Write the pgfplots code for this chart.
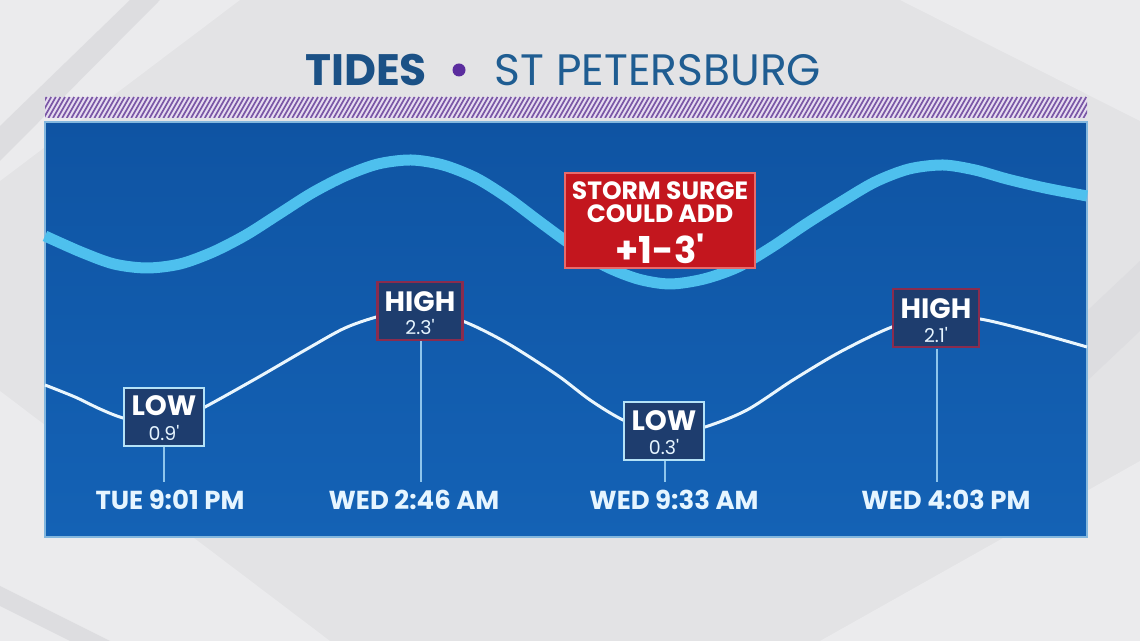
\documentclass[border=0pt]{standalone}
\usepackage{fontspec}
\setmainfont{Poppins}
\usepackage{pgfplots}
\pgfplotsset{compat=1.18}
\definecolor{bgbase}{HTML}{E3E3E5}
\definecolor{bglight}{HTML}{EBEBED}
\definecolor{bgdark}{HTML}{DDDDE0}
\definecolor{panelTop}{HTML}{0F54A3}
\definecolor{panelBot}{HTML}{1462B5}
\definecolor{surge}{HTML}{4EC0EE}
\definecolor{tide}{HTML}{EAF6FD}
\definecolor{boxfill}{HTML}{1E3D6E}
\definecolor{lowborder}{HTML}{B4E2F7}
\definecolor{highborder}{HTML}{8A2C4E}
\definecolor{tickline}{HTML}{8EC5EC}
\definecolor{labeltext}{HTML}{E6F5FF}
\definecolor{stormred}{HTML}{C3161E}
\definecolor{stormborder}{HTML}{E86A6A}
\definecolor{titleA}{HTML}{1B5186}
\definecolor{titleB}{HTML}{1F5D92}
\definecolor{dotpurple}{HTML}{5B2D9E}
\definecolor{hatchbg}{HTML}{E6DCF0}
\definecolor{hatchfg}{HTML}{7A57A6}
\newcommand\ft{\textquotesingle}
\begin{document}
\begin{tikzpicture}
% ---------- background (1 unit = 1 px of the reference, y upwards) ----------
\begin{scope}[x=0.5pt,y=0.5pt]
\fill[bgbase] (0,0) rectangle (1140,641);
\fill[bglight] (0,641) -- (240,641) -- (0,460) -- cycle;
\fill[bgdark] (0,480) -- (160,641) -- (130,641) -- (0,515) -- cycle;
\fill[bglight] (0,0) -- (330,0) -- (0,250) -- cycle;
\fill[bgdark] (0,55) -- (110,0) -- (70,0) -- (0,35) -- cycle;
\fill[bglight] (820,0) -- (1140,0) -- (1140,180) -- cycle;
\fill[bgdark] (1087,260) -- (1140,310) -- (1140,380) -- (1087,330) -- cycle;
\fill[bglight] (900,641) -- (1140,641) -- (1140,520) -- cycle;
% hatched band
\begin{scope}
\clip (45,523) rectangle (1087,544);
\fill[hatchbg] (45,523) rectangle (1087,544);
\foreach \i in {30,34.6,...,1090} {\draw[hatchfg, line width=0.85pt] (\i,523) -- (\i+12,544);}
\end{scope}
% panel
\shade[top color=panelTop, bottom color=panelBot] (45,104) rectangle (1087,519);
\draw[lowborder!70!panelTop, line width=0.6pt] (45,104) rectangle (1087,519);
% title
\node[text=titleA, font=\bfseries\fontsize{22}{24}\selectfont] at (366,571) {TIDES};
\fill[dotpurple] (459,571) circle (6.5);
\node[text=titleB, font=\fontsize{22}{24}\selectfont] at (658,571) {ST PETERSBURG};
\end{scope}
% ---------- chart ----------
\begin{axis}[width=570pt, height=320.5pt, scale only axis,
  xmin=0, xmax=1140, ymin=0, ymax=641, hide axis, clip=false]
% storm surge band
\addplot[smooth, line width=5.5pt, color=surge] coordinates {
 (45,405) (81,389) (114,377) (147,373) (180,377) (213,389) (246,406)
 (279,427) (312,448) (345,465) (378,477) (411,481) (443,476) (476,463)
 (508,443) (540,419) (573,395) (605,375) (638,362) (670,357) (704,362)
 (738,374) (772,394) (806,417) (841,439) (875,459) (909,472) (943,476)
 (975,471) (1007,462) (1045,453) (1087,445)};
% tide curve
\addplot[smooth, line width=1.5pt, color=tide] coordinates {
 (45,256) (75,244) (100,232) (123,223) (164,213) (205,234)
 (257,263) (307,292) (345,313) (380,325) (420,333) (465,319)
 (507,298) (557,266) (590,241) (623,221) (664,205) (705,214)
 (747,231) (793,261) (840,289) (892,314) (936,325) (980,322)
 (1030,310) (1087,294)};
% tick lines
\draw[tickline, line width=0.6pt] (164,194) -- (164,159);
\draw[tickline, line width=0.6pt] (421,300) -- (421,159);
\draw[tickline, line width=0.6pt] (665,180) -- (665,159);
\draw[tickline, line width=0.6pt] (937,292) -- (937,159);
% boxes
\node[draw=lowborder, line width=1.3pt, fill=boxfill, minimum width=40pt, minimum height=29pt, inner sep=0pt] at (164,224) {};
\node[draw=highborder, line width=1.3pt, fill=boxfill, minimum width=42.5pt, minimum height=29pt, inner sep=0pt] at (420,330) {};
\node[draw=lowborder, line width=1.3pt, fill=boxfill, minimum width=40pt, minimum height=29pt, inner sep=0pt] at (664,210) {};
\node[draw=highborder, line width=1.3pt, fill=boxfill, minimum width=43pt, minimum height=29pt, inner sep=0pt] at (936,323) {};
\node[text=white, font=\bfseries\fontsize{14}{14}\selectfont, inner sep=0pt] at (164,235) {LOW};
\node[text=labeltext, font=\fontsize{9.5}{10}\selectfont, inner sep=0pt] at (164,208) {0.9\ft};
\node[text=white, font=\bfseries\fontsize{14}{14}\selectfont, inner sep=0pt] at (420,339) {HIGH};
\node[text=labeltext, font=\fontsize{9.5}{10}\selectfont, inner sep=0pt] at (420,314) {2.3\ft};
\node[text=white, font=\bfseries\fontsize{14}{14}\selectfont, inner sep=0pt] at (664,220) {LOW};
\node[text=labeltext, font=\fontsize{9.5}{10}\selectfont, inner sep=0pt] at (664,194) {0.3\ft};
\node[text=white, font=\bfseries\fontsize{14}{14}\selectfont, inner sep=0pt] at (936,332) {HIGH};
\node[text=labeltext, font=\fontsize{9.5}{10}\selectfont, inner sep=0pt] at (936,306) {2.1\ft};
% time labels
\node[text=labeltext, font=\bfseries\fontsize{13}{14}\selectfont, inner sep=0pt] at (170,141) {TUE 9:01 PM};
\node[text=labeltext, font=\bfseries\fontsize{13}{14}\selectfont, inner sep=0pt] at (414,141) {WED 2:46 AM};
\node[text=labeltext, font=\bfseries\fontsize{13}{14}\selectfont, inner sep=0pt] at (674,141) {WED 9:33 AM};
\node[text=labeltext, font=\bfseries\fontsize{13}{14}\selectfont, inner sep=0pt] at (946,141) {WED 4:03 PM};
% storm surge box
\node[draw=stormborder, line width=0.6pt, fill=stormred, minimum width=95pt, minimum height=47.5pt, inner sep=0pt] at (660,420.5) {};
\node[text=white, font=\bfseries\fontsize{12.5}{13}\selectfont, inner sep=0pt] at (660,450) {STORM SURGE};
\node[text=white, font=\bfseries\fontsize{12.5}{13}\selectfont, inner sep=0pt] at (660,427) {COULD ADD};
\node[text=white, font=\bfseries\fontsize{18.5}{19}\selectfont, inner sep=0pt] at (660,392) {+1-3\ft};
\end{axis}
\end{tikzpicture}
\end{document}
